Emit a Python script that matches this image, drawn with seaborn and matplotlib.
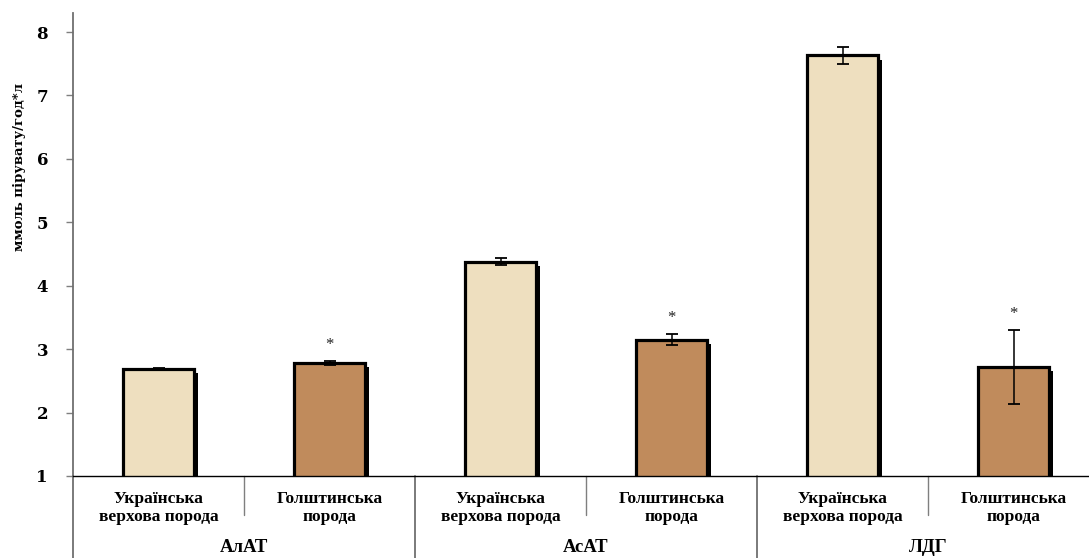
import numpy as np
import pandas as pd
import seaborn as sns
import matplotlib.pyplot as plt
import matplotlib.patheffects as pe
from matplotlib.transforms import blended_transform_factory

enzymes = ["АлАТ", "АсАТ", "ЛДГ"]
breeds = ["Українська\nверхова порода", "Голштинська\nпорода"]
values = [2.69, 2.78, 4.38, 3.15, 7.63, 2.72]
errors = [0.02, 0.03, 0.06, 0.09, 0.13, 0.58]
signif = [False, True, False, True, False, True]

df = pd.DataFrame({
    "enzyme": [e for e in enzymes for b in breeds],
    "breed": [b for e in enzymes for b in breeds],
    "value": values,
})
df["pos"] = [f"{e} {i}" for e in enzymes for i in range(2)]

sns.set_style("white")
plt.rcParams["font.family"] = ["Liberation Serif", "DejaVu Serif"]
plt.rcParams["text.color"] = "black"
plt.rcParams["ytick.labelcolor"] = "black"

fig = plt.figure(figsize=(10.89, 5.58), dpi=100)
ax = fig.add_axes([73 / 1089, 82 / 558, 1026 / 1089, 463 / 558])

sns.barplot(data=df, x="pos", y="value", hue="breed", dodge=False,
            palette=["#EEDFBF", "#C08B5C"], saturation=1, width=0.41,
            edgecolor="black", linewidth=2.3, legend=False, ax=ax)

shadow = [pe.SimplePatchShadow(offset=(3, -3), shadow_rgbFace="black", alpha=1), pe.Normal()]
for bar in ax.patches:
    bar.set_path_effects(shadow)

x = np.arange(len(values))
ax.errorbar(x, values, yerr=errors, fmt="none", ecolor="black", elinewidth=1.1,
            capsize=4.5, capthick=1.3, zorder=5)
for xi, v, e, s in zip(x, values, errors, signif):
    if s:
        ax.text(xi, v + e + 0.25, "*", ha="center", va="center", fontsize=12, color="#222222")

ax.set_xlim(-0.5, 5.5)
ax.set_ylim(1, 8.3)
ax.set_yticks(range(1, 9))
ax.set_yticklabels([str(i) for i in range(1, 9)], fontsize=12, fontweight="bold",
                   family="DejaVu Serif", color="black")
ax.tick_params(axis="y", direction="out", length=5, width=1, color="#7f7f7f", pad=13, left=True)
ax.set_xticks([])
ax.set_xlabel("")
ax.set_ylabel("")

for side in ["top", "right"]:
    ax.spines[side].set_visible(False)
ax.spines["left"].set_color("#6f6f6f")
ax.spines["left"].set_linewidth(1.3)
ax.spines["bottom"].set_color("black")
ax.spines["bottom"].set_linewidth(1)

trans = blended_transform_factory(ax.transData, ax.transAxes)
for xi in [0.5, 2.5, 4.5]:
    ax.plot([xi, xi], [0, -0.085], color="#7f7f7f", lw=1, transform=trans, clip_on=False)
for xi in [-0.5, 1.5, 3.5]:
    ax.plot([xi, xi], [0, -0.2], color="#6f6f6f", lw=1.3, transform=trans, clip_on=False)

for i, row in df.iterrows():
    ax.text(i, -0.069, row["breed"], transform=trans, ha="center", va="center",
            fontsize=12.5, fontweight="bold", linespacing=1.2)
for j, e in enumerate(enzymes):
    ax.text(2 * j + 0.5, -0.155, e, transform=trans, ha="center", va="center",
            fontsize=13.5, fontweight="bold")

fig.text(19 / 1089, 1 - 167 / 558, "ммоль пірувату/год*л", rotation=90, ha="center",
         va="center", fontsize=9.5, fontweight="bold", family="DejaVu Serif")

fig.savefig("out.png", dpi=100)
